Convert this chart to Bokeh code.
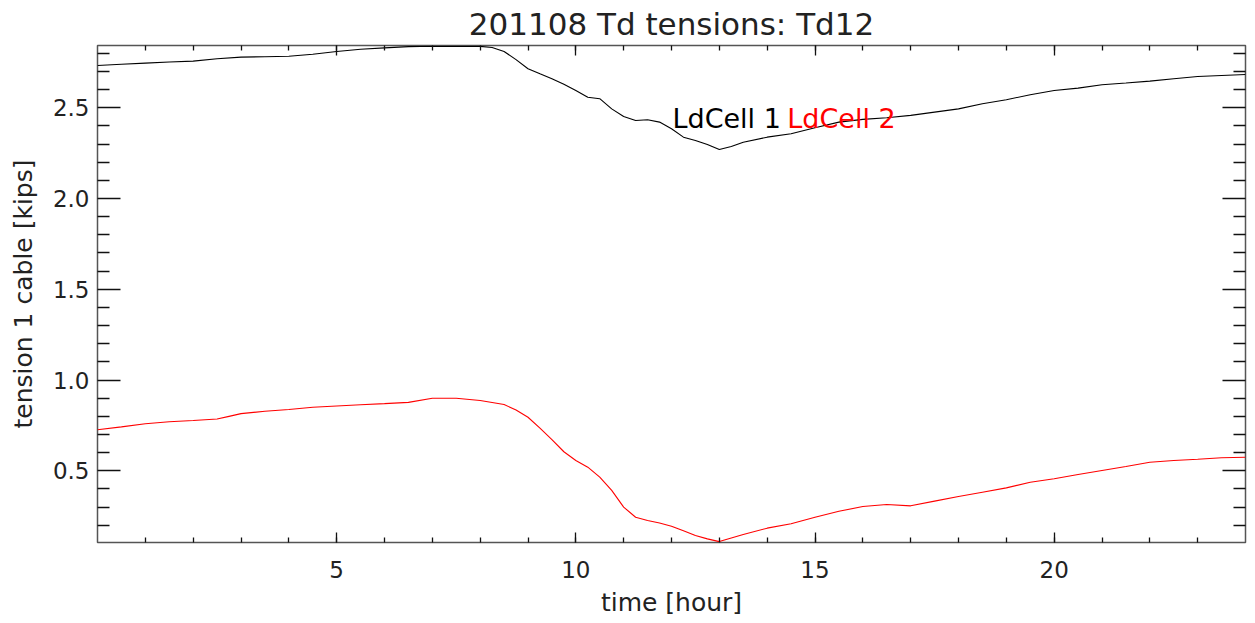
from bokeh.plotting import figure
from bokeh.models import (Range1d, LinearAxis, FixedTicker, PrintfTickFormatter, Label,
                          CustomLabelingPolicy)
from bokeh.embed import file_html
from bokeh.resources import INLINE

# ---- data ----
hours_ld1 = [0, 0.5, 1, 1.5, 2, 2.5, 3, 3.5, 4, 4.5, 5, 5.5, 6, 6.5, 7, 7.5, 8,
             8.25, 8.5, 8.75, 9, 9.25, 9.5, 9.75, 10, 10.25, 10.5, 10.75, 11, 11.25,
             11.5, 11.75, 12, 12.25, 12.5, 12.75, 13, 13.25, 13.5,
             14, 14.5, 15, 15.5, 16, 16.5, 17, 17.5, 18, 18.5, 19, 19.5, 20, 20.5,
             21, 21.5, 22, 22.5, 23, 23.5, 24]
tension_ld1 = [2.733, 2.740, 2.746, 2.752, 2.757, 2.770, 2.779, 2.781, 2.784, 2.795,
               2.810, 2.822, 2.830, 2.837, 2.839, 2.838, 2.838,
               2.832, 2.810, 2.765, 2.715, 2.687, 2.660, 2.630, 2.595, 2.558, 2.550,
               2.494, 2.452, 2.430, 2.434, 2.421, 2.384, 2.338, 2.320, 2.298, 2.270,
               2.287, 2.310,
               2.338, 2.357, 2.390, 2.421, 2.436, 2.445, 2.458, 2.476, 2.494, 2.522,
               2.544, 2.572, 2.595, 2.608, 2.627, 2.636, 2.647, 2.660, 2.672, 2.678, 2.683]

hours_ld2 = [0, 0.5, 1, 1.5, 2, 2.5, 2.75, 3, 3.5, 4, 4.5, 5, 5.5, 6, 6.5, 7, 7.5, 8,
             8.5, 8.75, 9, 9.25, 9.5, 9.75, 10, 10.25, 10.5, 10.75, 11, 11.25, 11.5,
             11.75, 12, 12.25, 12.5, 12.75, 13, 13.25, 13.5, 14, 14.5, 15, 15.5, 16,
             16.5, 17, 17.5, 18, 18.5, 19, 19.5, 20, 20.5, 21, 21.5, 22, 22.5, 23,
             23.5, 24]
tension_ld2 = [0.726, 0.742, 0.759, 0.770, 0.777, 0.785, 0.800, 0.815, 0.828, 0.838,
               0.850, 0.857, 0.864, 0.870, 0.877, 0.900, 0.900, 0.887,
               0.865, 0.835, 0.795, 0.735, 0.672, 0.605, 0.557, 0.520, 0.465, 0.392,
               0.300, 0.244, 0.226, 0.212, 0.195, 0.170, 0.144, 0.125, 0.110, 0.130,
               0.149, 0.184, 0.208, 0.244, 0.277, 0.303, 0.314, 0.307, 0.333, 0.358,
               0.382, 0.406, 0.437, 0.456, 0.480, 0.502, 0.524, 0.547, 0.557, 0.564,
               0.572, 0.575]

series_names = ["LdCell 1", "LdCell 2"]
series_colors = ["#000000", "#ff0000"]
title_text = "201108 Td tensions: Td12"
x_label = "time [hour]"
y_label = "tension 1 cable [kips]"
x_major = [5, 10, 15, 20]
x_minor = list(range(1, 24))
y_major = [0.5, 1.0, 1.5, 2.0, 2.5]
y_minor = [0.2, 0.3, 0.4, 0.6, 0.7, 0.8, 0.9, 1.1, 1.2, 1.3, 1.4, 1.6, 1.7, 1.8,
           1.9, 2.1, 2.2, 2.3, 2.4, 2.6, 2.7, 2.8]

FONT = "DejaVu Sans"
TXT = "#222222"
FRAME = "#555555"

p = figure(width=1252, height=623, output_backend="svg", toolbar_location=None,
           x_range=Range1d(0, 24), y_range=Range1d(0.105, 2.843),
           x_axis_location=None, y_axis_location=None,
           min_border_left=97, min_border_right=7, min_border_top=45,
           min_border_bottom=81, background_fill_color="white",
           border_fill_color="white")
p.grid.visible = False
p.outline_line_color = FRAME
p.outline_line_width = 1.5

p.title.text = title_text
p.title.align = "center"
p.title.text_font = FONT
p.title.text_font_size = "31px"
p.title.text_font_style = "normal"
p.title.text_color = TXT
p.title.standoff = 7


def make_axis(kind, show_labels, label=None):
    if kind == "x":
        ax = LinearAxis(ticker=FixedTicker(ticks=x_major, minor_ticks=x_minor))
        ax.major_tick_in = 10
        ax.minor_tick_in = 5
    else:
        ax = LinearAxis(ticker=FixedTicker(ticks=y_major, minor_ticks=y_minor),
                        formatter=PrintfTickFormatter(format="%.1f"))
        ax.major_tick_in = 23
        ax.minor_tick_in = 12
    ax.major_tick_out = 0
    ax.minor_tick_out = 0
    ax.axis_line_color = None
    ax.major_tick_line_color = "#111111"
    ax.minor_tick_line_color = "#111111"
    ax.major_tick_line_width = 1.3
    ax.minor_tick_line_width = 1.3
    if show_labels:
        ax.major_label_text_font = FONT
        ax.major_label_text_font_size = "23px"
        ax.major_label_text_color = TXT
        ax.axis_label = label
        ax.axis_label_text_font = FONT
        ax.axis_label_text_font_size = "25px"
        ax.axis_label_text_font_style = "normal"
        ax.axis_label_text_color = TXT
    else:
        ax.major_label_policy = CustomLabelingPolicy(code="return []")
        ax.major_label_text_font_size = "0px"
        ax.major_label_standoff = 0
    return ax


xb = make_axis("x", True, x_label)
xb.major_label_standoff = 18
xb.axis_label_standoff = 7
p.add_layout(xb, "below")
xt = make_axis("x", False)
p.add_layout(xt, "above")

yl = make_axis("y", True, y_label)
yl.major_label_standoff = 8
yl.axis_label_standoff = 12
p.add_layout(yl, "left")
yr = make_axis("y", False)
p.add_layout(yr, "right")

p.line(hours_ld1, tension_ld1, line_color=series_colors[0], line_width=1.1)
p.line(hours_ld2, tension_ld2, line_color=series_colors[1], line_width=1.1)

for name, color, lx in zip(series_names, series_colors, [12.02, 14.42]):
    p.add_layout(Label(x=lx, y=2.44, text=name, text_color=color,
                       text_font=FONT, text_font_size="27px",
                       text_baseline="alphabetic", text_align="left"))

open("out.html", "w").write(file_html(p, INLINE))
